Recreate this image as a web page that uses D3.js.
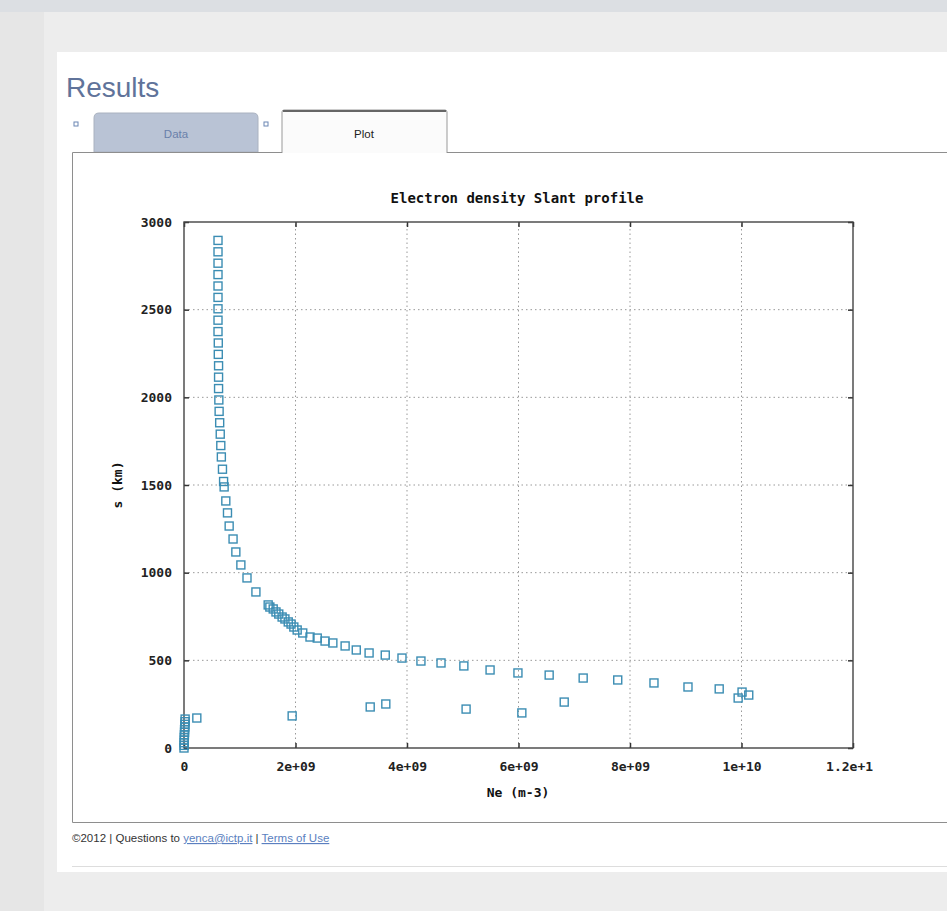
<!DOCTYPE html>
<html>
<head>
<meta charset="utf-8">
<script src="https://cdn.jsdelivr.net/npm/d3@7"></script>
<style>
  body { margin: 0; background: #e8e8e8; overflow: hidden; }
  svg { display: block; }
  .tick text { font-family: "DejaVu Sans Mono", monospace; font-weight: bold; font-size: 13px; fill: #222; }
  .grid line { stroke: #999; stroke-dasharray: 1.5,3; }
  .pt { fill: none; stroke: #3b8db3; stroke-width: 1.4; }
</style>
</head>
<body>
<svg id="page" width="947" height="911"></svg>
<script>
// slant profile points: Ne in 1e9 m-3, s in km
const neUpper = [0.61, 0.61, 0.61, 0.61, 0.61, 0.61, 0.61, 0.61, 0.61, 0.615, 0.615, 0.62, 0.62, 0.62, 0.625, 0.63, 0.64, 0.65, 0.66, 0.67, 0.69, 0.71,
  0.72, 0.75, 0.78, 0.81, 0.88, 0.93, 1.02, 1.13, 1.29,
  1.51, 1.54, 1.60, 1.65, 1.70, 1.76, 1.81, 1.87, 1.92, 1.97, 2.03, 2.13, 2.26, 2.39, 2.53, 2.67, 2.89, 3.09, 3.32, 3.61, 3.91, 4.25, 4.61,
  5.02, 5.49, 5.99, 6.55, 7.16, 7.78, 8.43, 9.04, 9.60, 10.01, 10.13];
const sUpper = [2895, 2830, 2765, 2700, 2635, 2570, 2505, 2440, 2375, 2310, 2245, 2180, 2115, 2050, 1985, 1920, 1855, 1790, 1725, 1660, 1590, 1520,
  1489, 1409, 1341, 1266, 1192, 1118, 1044, 970, 890,
  816, 804, 793, 776, 764, 747, 736, 719, 707, 690, 673, 656, 633, 627, 610, 599, 582, 559, 542, 530, 513, 496, 485,
  468, 445, 428, 416, 399, 388, 371, 348, 337, 319, 302];
// lower branch
const neLower = [0.02, 0.02, 0.015, 0.015, 0.01, 0.01, 0.008, 0.005, 0.005, 0.003, 0.002, 0.0, 0.23, 1.94, 3.34, 3.62, 5.06, 6.06, 6.82, 9.94];
const sLower = [165, 150, 135, 120, 105, 90, 75, 60, 45, 30, 15, 0, 171, 183, 234, 251, 222, 200, 262, 285];

const xTicks = [0, 2e9, 4e9, 6e9, 8e9, 1e10, 1.2e10];
const xTickLabels = ["0", "2e+09", "4e+09", "6e+09", "8e+09", "1e+10", "1.2e+10"];
const yTicks = [0, 500, 1000, 1500, 2000, 2500, 3000];

const svg = d3.select("#page");
const sans = "Liberation Sans, Arial, sans-serif";

// background window hints
svg.append("rect").attr("x", 0).attr("y", 0).attr("width", 947).attr("height", 911).attr("fill", "#e6e6e6");
svg.append("rect").attr("x", 0).attr("y", 0).attr("width", 947).attr("height", 12).attr("fill", "#dcdfe3");
svg.append("rect").attr("x", 44).attr("y", 12).attr("width", 903).attr("height", 899).attr("fill", "#ededed");

// white panel
svg.append("rect").attr("x", 57).attr("y", 52).attr("width", 890).attr("height", 820).attr("fill", "#fff");

svg.append("text").attr("x", 66).attr("y", 97)
  .style("font-family", sans).style("font-size", "28px")
  .attr("fill", "#60739a").text("Results");

// tabs
const tabs = svg.append("g");
tabs.append("rect").attr("x", 74).attr("y", 122).attr("width", 4).attr("height", 4).attr("fill", "none").attr("stroke", "#6b86b3");
tabs.append("rect").attr("x", 264).attr("y", 122).attr("width", 4).attr("height", 4).attr("fill", "none").attr("stroke", "#6b86b3");
tabs.append("path").attr("d", "M94,152 V118 Q94,113 99,113 H253 Q258,113 258,118 V152 Z")
  .attr("fill", "#b9c3d5").attr("stroke", "#aab2c0");
tabs.append("text").attr("x", 176).attr("y", 138).attr("text-anchor", "middle")
  .style("font-family", sans).style("font-size", "11.5px").attr("fill", "#6a80aa").text("Data");
tabs.append("path").attr("d", "M282,153 V112 Q282,110 284,110 H445 Q447,110 447,112 V153")
  .attr("fill", "#fbfbfb").attr("stroke", "#999");
tabs.append("line").attr("x1", 283).attr("x2", 446).attr("y1", 111).attr("y2", 111).attr("stroke", "#666").attr("stroke-width", 2);
tabs.append("text").attr("x", 364).attr("y", 138).attr("text-anchor", "middle")
  .style("font-family", sans).style("font-size", "11.5px").attr("fill", "#222").text("Plot");

// content box
svg.append("path").attr("d", "M947,152.5 H447 M282,152.5 H72.5 V822.5 H947")
  .attr("fill", "none").attr("stroke", "#8e8e8e");
svg.append("line").attr("x1", 72).attr("x2", 947).attr("y1", 866.5).attr("y2", 866.5).attr("stroke", "#ddd");

// footer
const foot = svg.append("text").attr("x", 72).attr("y", 842)
  .style("font-family", sans).style("font-size", "11.5px").attr("fill", "#333");
foot.append("tspan").text("©2012 | Questions to ");
foot.append("tspan").attr("fill", "#5b7fc0").attr("text-decoration", "underline").text("yenca@ictp.it");
foot.append("tspan").text(" | ");
foot.append("tspan").attr("fill", "#5b7fc0").attr("text-decoration", "underline").text("Terms of Use");

// chart (plot image is cut on the right, like the reference)
svg.append("clipPath").attr("id", "plotclip").append("rect")
  .attr("x", 73).attr("y", 153).attr("width", 800).attr("height", 668);
const chart = svg.append("g").attr("clip-path", "url(#plotclip)");

const x = d3.scaleLinear().domain([0, 1.2e10]).range([184, 853]);
const y = d3.scaleLinear().domain([0, 3000]).range([748, 222]);

chart.append("g").attr("class", "grid")
  .selectAll("line.gx").data(xTicks.slice(1, -1)).join("line")
  .attr("x1", d => x(d)).attr("x2", d => x(d)).attr("y1", y(0)).attr("y2", y(3000));
chart.append("g").attr("class", "grid")
  .selectAll("line.gy").data(yTicks.slice(1, -1)).join("line")
  .attr("x1", x(0)).attr("x2", x(1.2e10)).attr("y1", d => y(d)).attr("y2", d => y(d));

const xAxis = d3.axisBottom(x).tickValues(xTicks).tickFormat((d, i) => xTickLabels[i]).tickSizeInner(-5).tickSizeOuter(0).tickPadding(14);
const xAxisTop = d3.axisTop(x).tickValues(xTicks).tickFormat("").tickSizeInner(-5).tickSizeOuter(0);
const yAxis = d3.axisLeft(y).tickValues(yTicks).tickFormat(d3.format("d")).tickSizeInner(-5).tickSizeOuter(0).tickPadding(12);
const yAxisRight = d3.axisRight(y).tickValues(yTicks).tickFormat("").tickSizeInner(-5).tickSizeOuter(0);

[
  chart.append("g").attr("transform", `translate(0,${y(0)})`).call(xAxis),
  chart.append("g").attr("transform", `translate(0,${y(3000)})`).call(xAxisTop),
  chart.append("g").attr("transform", `translate(${x(0)},0)`).call(yAxis),
  chart.append("g").attr("transform", `translate(${x(1.2e10)},0)`).call(yAxisRight)
].forEach(g => {
  g.select(".domain").remove();
  g.selectAll(".tick line").attr("stroke", "#333").attr("stroke-width", 1.5);
});

chart.append("rect").attr("x", x(0)).attr("y", y(3000))
  .attr("width", x(1.2e10) - x(0)).attr("height", y(0) - y(3000))
  .attr("fill", "none").attr("stroke", "#444").attr("stroke-width", 1.4);

const pts = neUpper.map((v, i) => ({ ne: v * 1e9, s: sUpper[i] }))
  .concat(neLower.map((v, i) => ({ ne: v * 1e9, s: sLower[i] })));
const sz = 8;
chart.append("g").selectAll("rect.pt").data(pts).join("rect")
  .attr("class", "pt")
  .attr("x", d => x(d.ne) - sz / 2).attr("y", d => y(d.s) - sz / 2)
  .attr("width", sz).attr("height", sz);

const mono = "DejaVu Sans Mono, monospace";
chart.append("text").attr("x", 517).attr("y", 203).attr("text-anchor", "middle")
  .style("font-family", mono).style("font-weight", "bold").style("font-size", "14px").attr("fill", "#111")
  .text("Electron density Slant profile");
chart.append("text").attr("x", 518).attr("y", 797).attr("text-anchor", "middle")
  .style("font-family", mono).style("font-weight", "bold").style("font-size", "13px").attr("fill", "#111")
  .text("Ne (m-3)");
chart.append("text").attr("transform", "translate(122,485) rotate(-90)").attr("text-anchor", "middle")
  .style("font-family", mono).style("font-weight", "bold").style("font-size", "13px").attr("fill", "#111")
  .text("s (km)");
</script>
</body>
</html>
